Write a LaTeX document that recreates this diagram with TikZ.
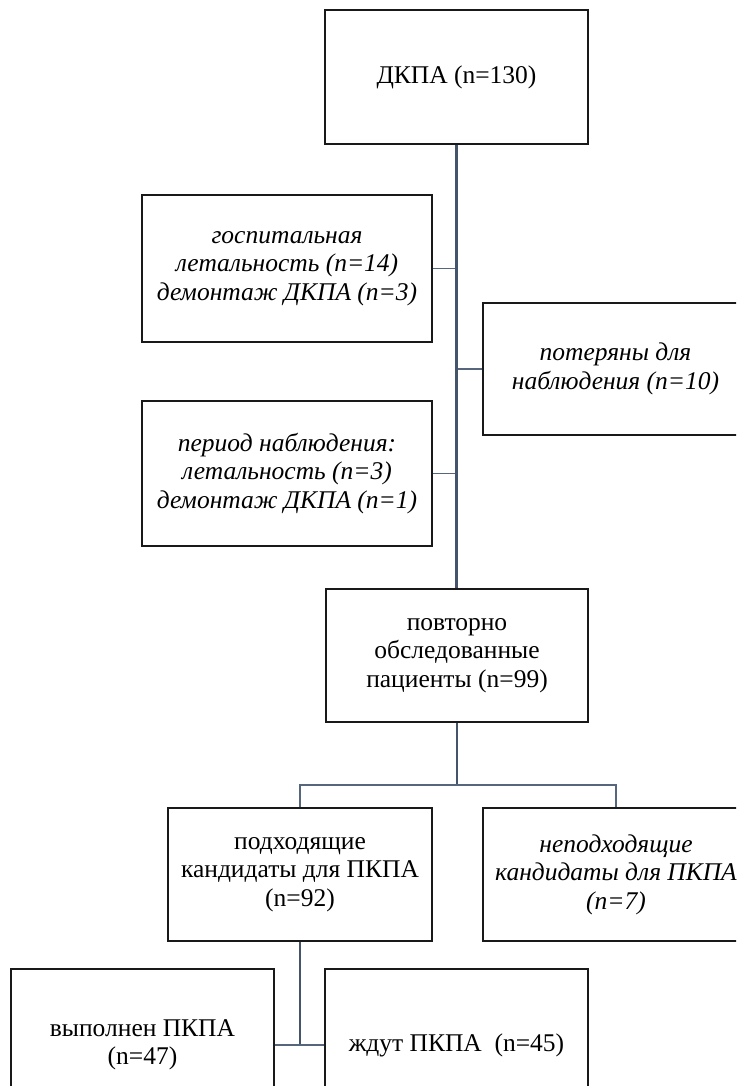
\documentclass[tikz,border=0pt]{standalone}
\usepackage{fontspec}
\setmainfont{Liberation Serif}
\definecolor{linemain}{HTML}{44546A}
\definecolor{linebranch}{HTML}{56667D}
\begin{document}
\begin{tikzpicture}[x=1pt,y=1pt,
  box/.style={draw=black!90, line width=1.1pt, rectangle, inner sep=0pt, align=center,
    font=\fontsize{25.5}{28.5}\selectfont},
  itbox/.style={box, font=\fontsize{25.5}{28.5}\selectfont\itshape},
  trunk/.style={draw=linemain, line width=2.3pt},
  branch/.style={draw=linebranch, line width=1.8pt}]
\useasboundingbox (0,0) rectangle (736,-1086);
\clip (0,0) rectangle (736,-1086);
\fill[white] (0,0) rectangle (736,-1086);

\node[box, minimum width=263, minimum height=134] (top) at (456.5,-77) {ДКПА (n=130)};
\node[itbox, minimum width=290, minimum height=147] (hosp) at (287,-268.5)
  {госпитальная\\летальность (n=14)\\демонтаж ДКПА (n=3)};
\node[itbox, minimum width=265, minimum height=132] (lost) at (615.5,-369)
  {потеряны для\\наблюдения (n=10)};
\node[itbox, minimum width=290, minimum height=145] (follow) at (287,-473.5)
  {период наблюдения:\\летальность (n=3)\\демонтаж ДКПА (n=1)};
\node[box, minimum width=262, minimum height=133] (reexam) at (457,-655.5)
  {повторно\\обследованные\\пациенты (n=99)};
\node[box, minimum width=264, minimum height=133] (fit) at (300,-874.5)
  {подходящие\\кандидаты для ПКПА\\(n=92)};
\node[itbox, minimum width=266, minimum height=133] (unfit) at (616,-874.5)
  {неподходящие\\кандидаты для ПКПА\\(n=7)};
\node[box, minimum width=263, minimum height=152] (done) at (142.5,-1045)
  {выполнен ПКПА\\(n=47)};
\node[box, minimum width=263, minimum height=152] (wait) at (456.5,-1045)
  {ждут ПКПА~~(n=45)};

\coordinate (bar) at (457,-785);

% connectors
\draw[branch] (hosp.east) -- (hosp.east -| top.south);
\draw[branch] (lost.west) -- (lost.west -| top.south);
\draw[branch] (follow.east) -- (follow.east -| top.south);
\draw[trunk] (top.south) -- (top.south |- reexam.north);
\draw[trunk] (reexam.south) -- (bar);
\draw[branch] (fit.north) |- (bar) -| (unfit.north);
\draw[trunk] (fit.south) -- (fit.south |- done.east);
\draw[branch] (done.east) -- (wait.west);
\end{tikzpicture}
\end{document}
